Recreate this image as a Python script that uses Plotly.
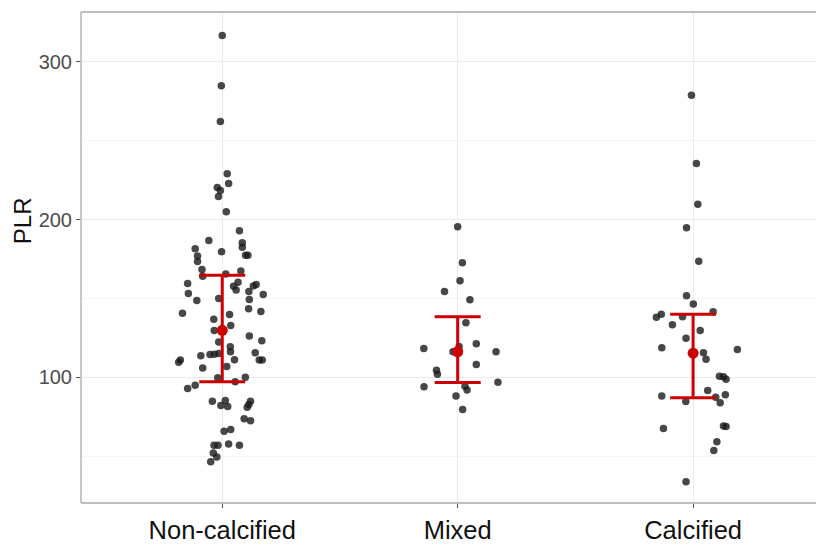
import plotly.graph_objects as go

categories = ["Non-calcified", "Mixed", "Calcified"]

# PLR values per group and horizontal jitter (category units)
nc_values = [316.6, 284.8, 262.2, 229.1, 222.8, 220.3, 218.4, 214.6, 204.9, 193.0,
             186.7, 185.3, 182.5, 181.5, 179.7, 177.5, 177.5, 176.9, 173.4, 168.4,
             167.5, 164.2, 165.5, 159.5, 160.3, 157.8, 155.4, 158.0, 158.9, 153.2,
             154.4, 152.5, 148.7, 150.0, 149.4, 143.5, 141.8, 140.7, 139.9, 136.9,
             132.9, 129.7, 126.3, 123.3, 122.5, 119.4, 115.6, 113.7, 114.6, 114.7,
             115.2, 116.3, 111.1, 109.7, 111.2, 111.1, 111.1, 106.0, 107.0, 99.8,
             100.2, 97.3, 95.1, 93.0, 85.0, 85.4, 82.3, 81.6, 84.9, 82.9,
             81.2, 73.9, 72.6, 66.0, 67.1, 57.1, 57.1, 57.9, 57.1, 52.1,
             49.7, 46.6]
nc_jitter = [0.000, -0.004, -0.008, 0.021, 0.027, -0.021, -0.008, -0.016, 0.017, 0.073,
             -0.057, 0.085, 0.085, -0.115, -0.003, 0.099, 0.109, -0.105, -0.105, -0.086,
             0.079, -0.083, 0.015, -0.147, 0.067, 0.048, 0.059, 0.132, 0.144, -0.144,
             0.113, 0.174, -0.108, -0.015, 0.115, 0.112, 0.164, -0.169, 0.031, -0.036,
             0.036, -0.034, 0.115, 0.168, -0.015, 0.034, 0.140, -0.091, -0.052, -0.034,
             -0.015, 0.035, -0.178, -0.185, 0.052, 0.157, 0.170, -0.083, 0.019, -0.019,
             0.098, 0.055, -0.115, -0.147, -0.042, 0.013, -0.006, 0.023, 0.120, 0.113,
             0.106, 0.093, 0.120, 0.008, 0.036, -0.035, -0.018, 0.027, 0.073, -0.038,
             -0.023, -0.049]

mx_values = [195.4, 172.6, 161.2, 154.4, 149.2, 134.6, 118.4, 119.6, 121.3, 116.3,
             116.3, 108.2, 104.6, 102.1, 97.0, 94.1, 94.5, 92.0, 88.2, 79.7]
mx_jitter = [0.000, 0.020, 0.010, -0.056, 0.052, 0.035, -0.144, 0.006, 0.079, -0.020,
             0.163, 0.079, -0.090, -0.086, 0.171, -0.143, 0.031, 0.040, -0.007, 0.021]

ca_values = [278.7, 235.6, 209.7, 194.9, 173.6, 151.7, 146.6, 141.6, 140.1, 138.2,
             138.4, 133.4, 129.7, 124.9, 118.8, 117.7, 115.6, 111.6, 100.8, 100.4,
             98.9, 91.8, 88.2, 89.0, 87.5, 84.8, 84.0, 67.7, 69.2, 69.0,
             59.3, 53.8, 33.9]
ca_jitter = [-0.007, 0.014, 0.020, -0.028, 0.024, -0.028, 0.001, 0.085, -0.135, -0.156,
             -0.045, -0.088, 0.030, -0.030, -0.133, 0.188, 0.044, 0.055, 0.112, 0.129,
             0.140, 0.062, -0.133, 0.137, 0.096, -0.031, 0.115, -0.126, 0.129, 0.140,
             0.101, 0.088, -0.030]

# summary: centre point and interval per group
summary_mid = [129.9, 116.3, 115.4]
summary_low = [97.3, 96.8, 87.1]
summary_high = [164.8, 138.4, 140.1]

y_ticks = [100, 200, 300]
y_title = "PLR"

groups = [(nc_values, nc_jitter), (mx_values, mx_jitter), (ca_values, ca_jitter)]

fig = go.Figure()

xs, ys = [], []
for i, (vals, jit) in enumerate(groups):
    for v, j in zip(vals, jit):
        xs.append(i + 1 + j)
        ys.append(v)

fig.add_trace(go.Scatter(
    x=xs, y=ys, mode="markers",
    marker=dict(size=7.5, color="rgba(25,25,25,0.8)", line=dict(width=0)),
    showlegend=False, hoverinfo="y"))

cat_pos = [i + 1 for i in range(len(categories))]
fig.add_trace(go.Scatter(
    x=cat_pos, y=summary_mid, mode="markers",
    marker=dict(size=11, color="#CC0000"),
    error_y=dict(type="data", symmetric=False,
                 array=[h - m for h, m in zip(summary_high, summary_mid)],
                 arrayminus=[m - l for m, l in zip(summary_mid, summary_low)],
                 color="#CC0000", thickness=3, width=23),
    showlegend=False))

border = "#A9A9A9"
fig.update_layout(
    width=816, height=539,
    margin=dict(l=73, r=0, t=4, b=44),
    paper_bgcolor="white", plot_bgcolor="white",
    font=dict(family="Liberation Sans, Arial, sans-serif"),
    xaxis=dict(
        range=[0.4, 3.556],
        tickmode="array", tickvals=cat_pos, ticktext=categories,
        tickfont=dict(size=25.5, color="#111111"),
        showgrid=True, gridcolor="#EBEBEB", gridwidth=1.2,
        ticks="outside", ticklen=4, tickcolor="#555555", tickwidth=1,
        zeroline=False, showline=False, ticklabelstandoff=0,
    ),
    yaxis=dict(
        range=[20.5, 331.5],
        tickmode="array", tickvals=y_ticks,
        tickfont=dict(size=20, color="#4D4D4D"),
        showgrid=True, gridcolor="#EBEBEB", gridwidth=1.2,
        minor=dict(tickvals=[50, 150, 250], showgrid=True,
                   gridcolor="#F5F5F5", gridwidth=0.8, ticks=""),
        ticks="outside", ticklen=4, tickcolor="#555555", tickwidth=1,
        zeroline=False, showline=False,
    ),
    annotations=[
        dict(text=y_title, xref="paper", yref="paper", x=-0.0794, y=0.574,
             textangle=-90, showarrow=False, xanchor="center", yanchor="middle",
             font=dict(size=24, color="#111111")),
    ],
    shapes=[
        dict(type="line", xref="paper", yref="paper", x0=0, x1=0, y0=0, y1=1,
             line=dict(color=border, width=1.3)),
        dict(type="line", xref="paper", yref="paper", x0=0, x1=1, y0=1, y1=1,
             line=dict(color=border, width=1.3)),
        dict(type="line", xref="paper", yref="paper", x0=0, x1=1, y0=0, y1=0,
             line=dict(color=border, width=1.3)),
    ],
)

fig.write_html("out.html")
